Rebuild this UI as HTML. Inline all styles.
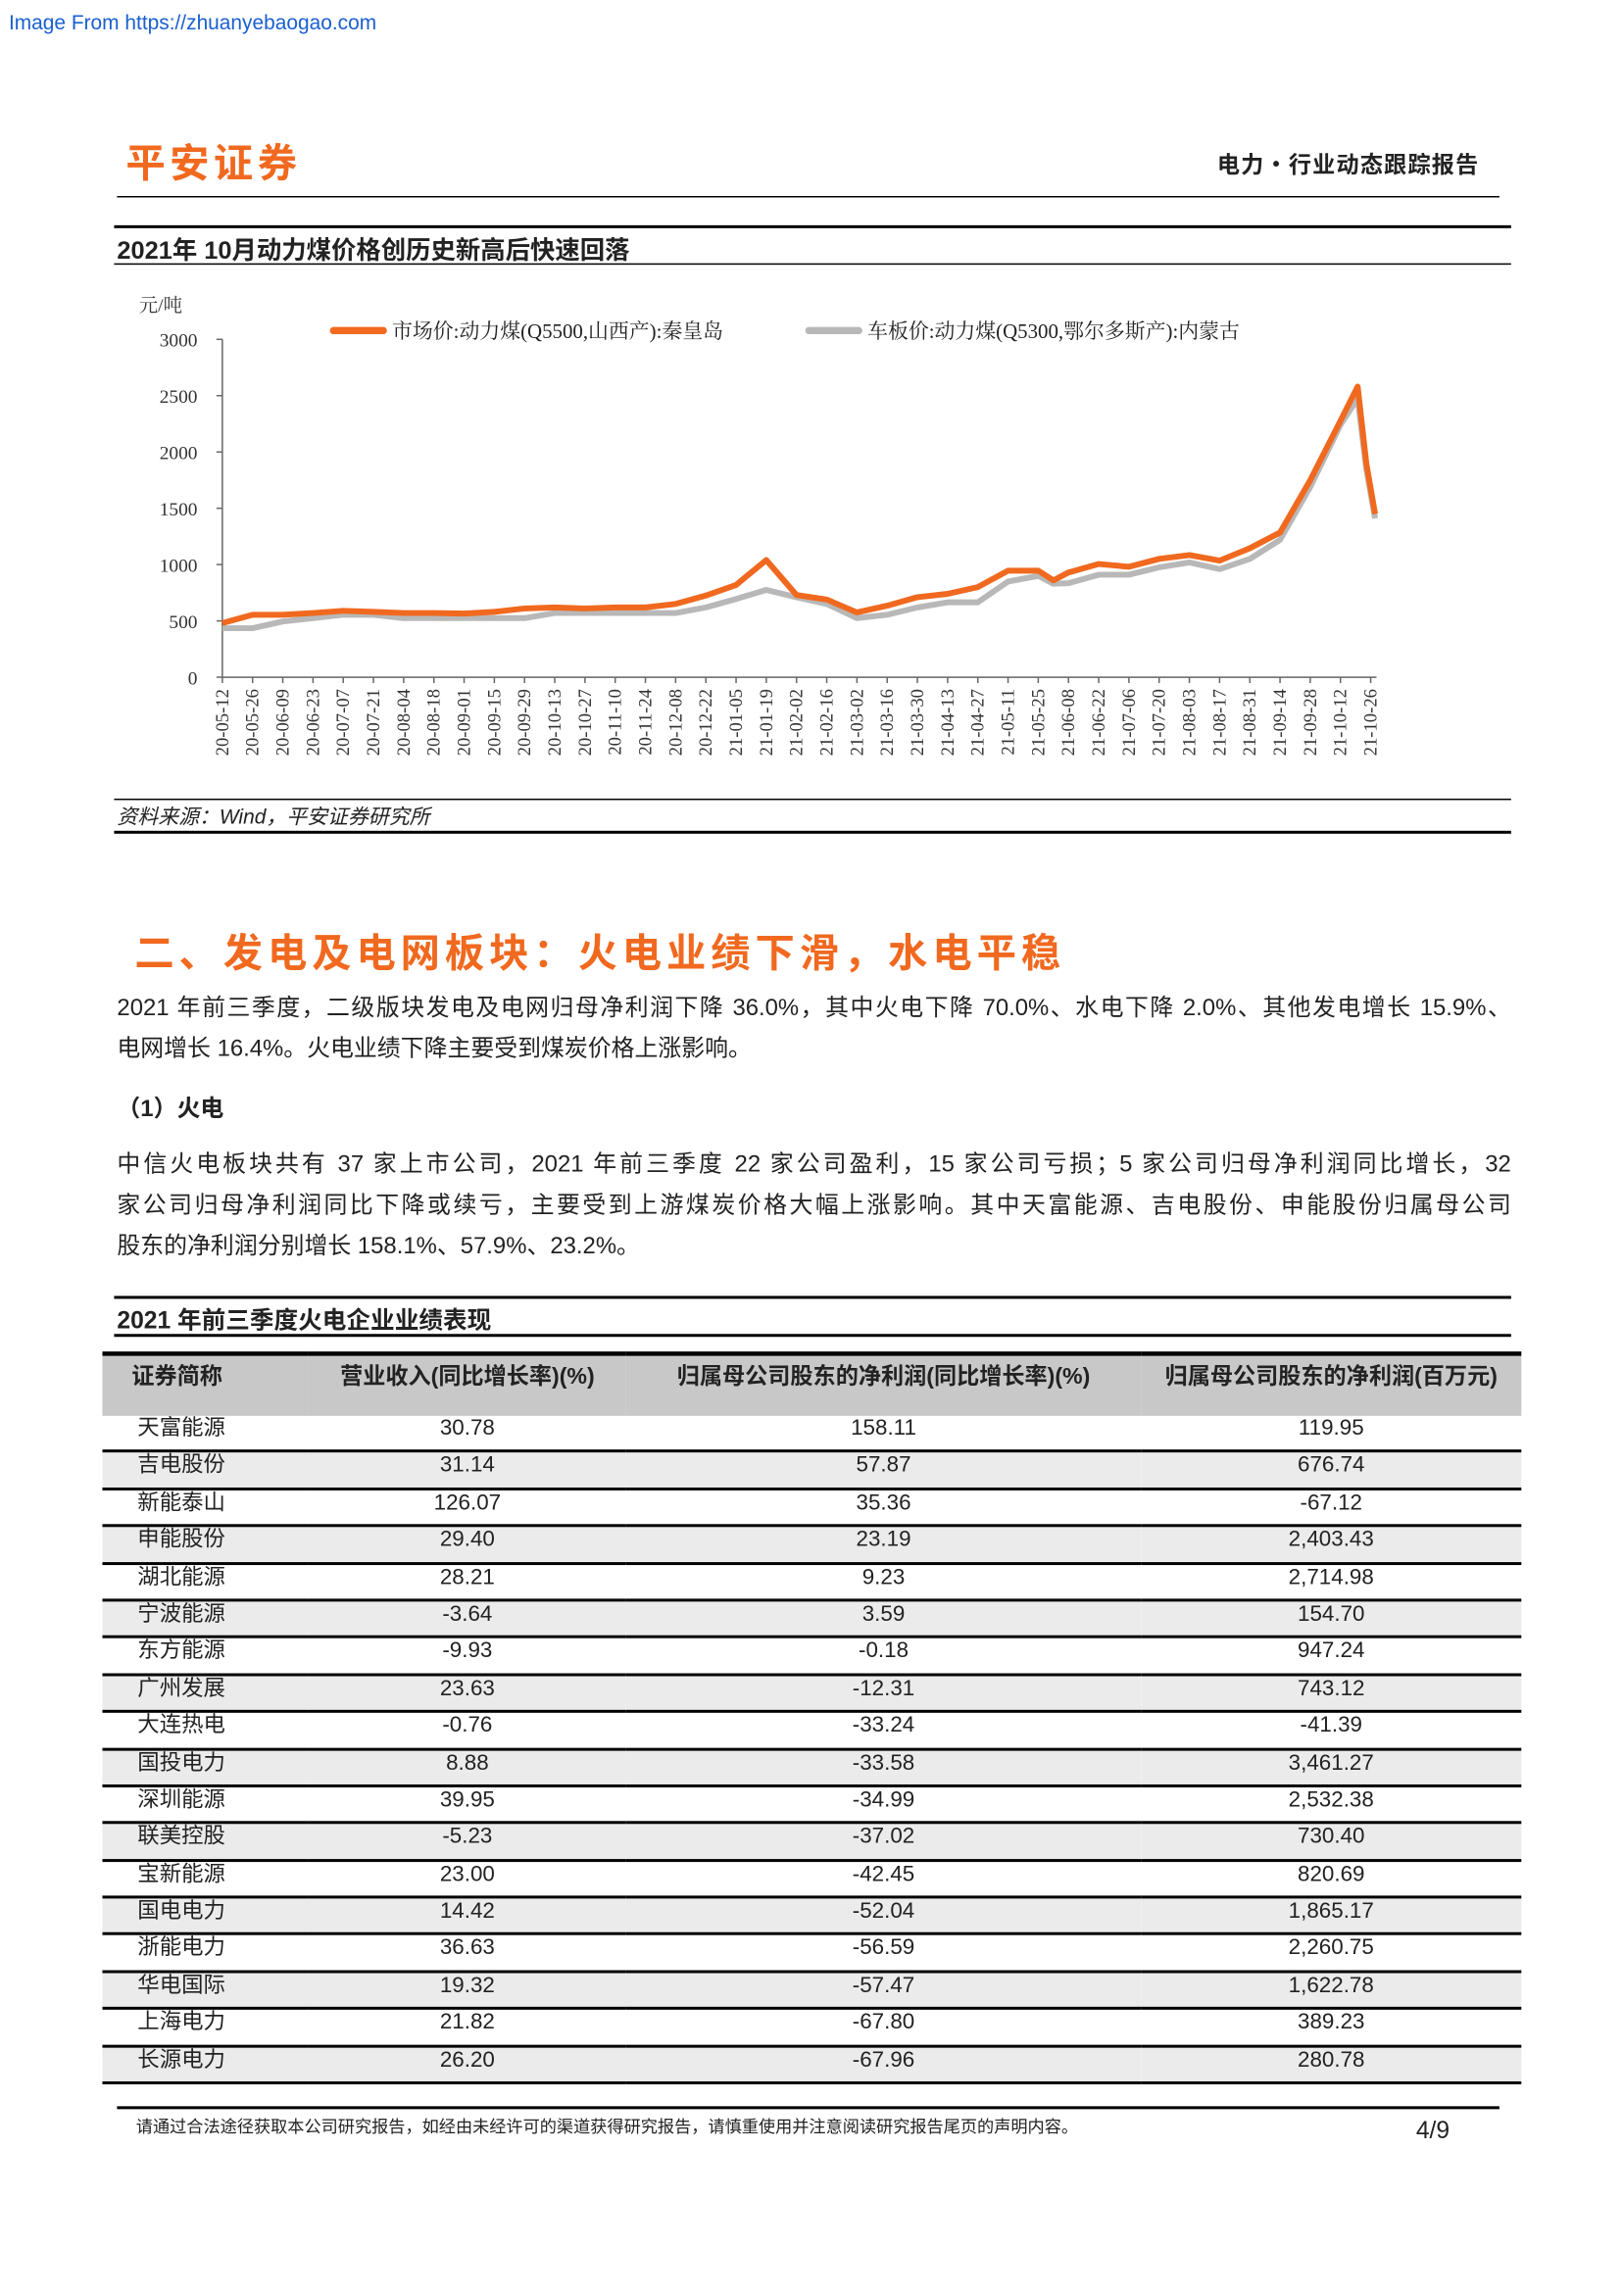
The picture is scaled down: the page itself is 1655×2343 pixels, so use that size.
<!DOCTYPE html>
<html><head><meta charset="utf-8">
<style>
html,body{margin:0;padding:0;background:#fff;}
body{width:1655px;height:2340px;overflow:hidden;position:relative;}
#pg{position:absolute;left:0;top:0;width:1110px;height:1570px;transform:scale(1.4926);transform-origin:0 0;font-family:"Liberation Sans","Noto Sans CJK SC",sans-serif;color:#222;}
.a{position:absolute;white-space:nowrap;}
.ln{position:absolute;background:#000;}
.pl{position:absolute;left:80px;width:953px;font-size:16px;line-height:28px;white-space:nowrap;text-align:justify;text-align-last:justify;}
.pl.last{text-align-last:left;}
table{position:absolute;left:70px;top:924px;width:970px;border-collapse:collapse;font-size:15px;}
th{background:#c8c8c8;font-weight:bold;height:38px;vertical-align:top;padding-top:2px;border-top:3px solid #000;font-size:15.5px;}
td{height:23.4px;border-bottom:2px solid #000;padding:0;line-height:18px;vertical-align:top;}
tr.g td{background:#ebebeb;}
td.n{padding-left:24px;text-align:left;}
td.c{text-align:center;}
</style></head><body>
<div id="pg">
<div class="a" style="left:6px;top:7px;font-size:14px;color:#1a5fd0;">Image From https://zhuanyebaogao.com</div>
<div class="a" style="left:86px;top:90px;font-size:27px;font-weight:bold;color:#f0691f;letter-spacing:3px;">平安证券</div>
<div class="a" style="left:832px;top:101px;font-size:15.5px;font-weight:bold;letter-spacing:0.8px;">电力・行业动态跟踪报告</div>
<div class="ln" style="left:80px;top:134px;width:945px;height:1px;"></div>

<div class="ln" style="left:78px;top:154px;width:955px;height:2px;"></div>
<div class="a" style="left:80px;top:157px;font-size:17px;font-weight:bold;">2021年 10月动力煤价格创历史新高后快速回落</div>
<div class="ln" style="left:78px;top:180px;width:955px;height:1px;"></div>

<svg id="chart" style="position:absolute;left:0;top:0" width="1100" height="560" font-family="'Liberation Serif','Noto Serif CJK SC',serif"></svg>

<div class="ln" style="left:78px;top:546px;width:955px;height:1px;"></div>
<div class="a" style="left:80px;top:548px;font-size:14px;font-style:italic;">资料来源：Wind，平安证券研究所</div>
<div class="ln" style="left:78px;top:568px;width:955px;height:2px;"></div>

<div class="a" style="left:92px;top:630px;font-size:27px;font-weight:bold;color:#f0691f;letter-spacing:3.3px;">二、发电及电网板块：火电业绩下滑，水电平稳</div>
<div>
<div class="pl" style="top:676px;">2021 年前三季度，二级版块发电及电网归母净利润下降 36.0%，其中火电下降 70.0%、水电下降 2.0%、其他发电增长 15.9%、</div>
<div class="pl last" style="top:704px;">电网增长 16.4%。火电业绩下降主要受到煤炭价格上涨影响。</div>
</div>
<div class="a" style="left:80px;top:744px;font-size:16px;font-weight:bold;">（1）火电</div>
<div>
<div class="pl" style="top:783px;">中信火电板块共有 37 家上市公司，2021 年前三季度 22 家公司盈利，15 家公司亏损；5 家公司归母净利润同比增长，32</div>
<div class="pl" style="top:811px;">家公司归母净利润同比下降或续亏，主要受到上游煤炭价格大幅上涨影响。其中天富能源、吉电股份、申能股份归属母公司</div>
<div class="pl last" style="top:839px;">股东的净利润分别增长 158.1%、57.9%、23.2%。</div>
</div>

<div class="ln" style="left:78px;top:886px;width:955px;height:2px;"></div>
<div class="a" style="left:80px;top:889px;font-size:16.5px;font-weight:bold;">2021 年前三季度火电企业业绩表现</div>
<div class="ln" style="left:78px;top:912px;width:955px;height:2px;"></div>

<table>
<thead><tr><th style="width:120px;text-align:left;padding-left:20px;">证券简称</th><th style="width:215px;">营业收入(同比增长率)(%)</th><th style="width:350px;">归属母公司股东的净利润(同比增长率)(%)</th><th>归属母公司股东的净利润(百万元)</th></tr></thead>
<tbody id="tb"></tbody>
</table>

<div class="ln" style="left:80px;top:1440px;width:945px;height:2px;"></div>
<div class="a" style="left:93px;top:1446px;font-size:11.5px;">请通过合法途径获取本公司研究报告，如经由未经许可的渠道获得研究报告，请慎重使用并注意阅读研究报告尾页的声明内容。</div>
<div class="a" style="left:968px;top:1448px;font-size:16.5px;">4/9</div>
</div>
<script>
const names=["天富能源","吉电股份","新能泰山","申能股份","湖北能源","宁波能源","东方能源","广州发展","大连热电","国投电力","深圳能源","联美控股","宝新能源","国电电力","浙能电力","华电国际","上海电力","长源电力"];
const revGrowth=["30.78","31.14","126.07","29.40","28.21","-3.64","-9.93","23.63","-0.76","8.88","39.95","-5.23","23.00","14.42","36.63","19.32","21.82","26.20"];
const profitGrowth=["158.11","57.87","35.36","23.19","9.23","3.59","-0.18","-12.31","-33.24","-33.58","-34.99","-37.02","-42.45","-52.04","-56.59","-57.47","-67.80","-67.96"];
const profit=["119.95","676.74","-67.12","2,403.43","2,714.98","154.70","947.24","743.12","-41.39","3,461.27","2,532.38","730.40","820.69","1,865.17","2,260.75","1,622.78","389.23","280.78"];
const tb=document.getElementById('tb');
names.forEach((n,i)=>{
  const tr=document.createElement('tr');
  
  
  if(i%2===1)tr.className='g';
  [[n,'n'],[revGrowth[i],'c'],[profitGrowth[i],'c'],[profit[i],'c']].forEach(([v,c])=>{
    const td=document.createElement('td');td.className=c;td.textContent=v;
    
    
    tr.appendChild(td);
  });
  tb.appendChild(tr);
});

const dateLabels=["20-05-12","20-05-26","20-06-09","20-06-23","20-07-07","20-07-21","20-08-04","20-08-18","20-09-01","20-09-15","20-09-29","20-10-13","20-10-27","20-11-10","20-11-24","20-12-08","20-12-22","21-01-05","21-01-19","21-02-02","21-02-16","21-03-02","21-03-16","21-03-30","21-04-13","21-04-27","21-05-11","21-05-25","21-06-08","21-06-22","21-07-06","21-07-20","21-08-03","21-08-17","21-08-31","21-09-14","21-09-28","21-10-12","21-10-26"];
const yTicks=[0,500,1000,1500,2000,2500,3000];
const dayOffsets=[0,14,28,42,56,70,84,98,112,126,140,154,168,182,196,210,224,238,252,266,280,294,308,322,336,350,364,378,385,392,406,420,434,448,462,476,490,504,518,526,530,534];
const qhdPrice=[480,555,555,570,590,580,570,570,565,580,610,620,610,620,620,650,725,820,1040,730,690,575,635,710,740,800,945,945,860,930,1005,980,1050,1085,1035,1145,1285,1750,2275,2580,1900,1450];
const nmgPrice=[435,435,495,525,555,555,525,525,525,525,525,570,570,570,570,570,620,695,775,710,650,525,555,620,665,665,850,900,830,835,910,910,975,1020,960,1050,1220,1690,2240,2475,1850,1410];
const svg=document.getElementById('chart');
const NS='http://www.w3.org/2000/svg';
const X0=152,X1=937,Y0=463,Y1=232;
const xs=d=>X0+d/532*(X1-X0);
const ys=v=>Y0-v/3000*(Y0-Y1);
function mk(t,a){const e=document.createElementNS(NS,t);for(const k in a)e.setAttribute(k,a[k]);svg.appendChild(e);return e;}
const ax=mk('path',{d:`M${X0},${Y1} V${Y0} H${X1+4}`,stroke:'#666',fill:'none','stroke-width':1});


yTicks.forEach(v=>{
  const l=mk('line',{x1:X0-4,x2:X0,y1:ys(v),y2:ys(v),stroke:'#666'});
  
  
  const t=mk('text',{x:X0-17,y:ys(v)+5,'font-size':13,'text-anchor':'end',fill:'#333'});
  t.textContent=v;
  
  
});
dateLabels.forEach((s,k)=>{
  const x=xs(k*14);
  const l=mk('line',{x1:x,x2:x,y1:Y0,y2:Y0+4,stroke:'#666'});
  
  
  const t=mk('text',{x:0,y:0,'font-size':12.5,'text-anchor':'end',fill:'#333',transform:`translate(${x+4},${Y0+8}) rotate(-90)`});
  t.textContent=s;
  
  
});
const ut=mk('text',{x:95,y:213,'font-size':13,fill:'#333'});
ut.textContent='元/吨';


function line(vals,col,name){
  const p=mk('polyline',{points:vals.map((v,i)=>xs(dayOffsets[i]).toFixed(1)+','+ys(v).toFixed(1)).join(' '),fill:'none',stroke:col,'stroke-width':4,'stroke-linejoin':'round'});
  
  
}
line(nmgPrice,'#b8b8b8','series-inner-mongolia');
line(qhdPrice,'#f0691f','series-qinhuangdao');
[[228,'#f0691f','市场价:动力煤(Q5500,山西产):秦皇岛'],[553,'#b8b8b8','车板价:动力煤(Q5300,鄂尔多斯产):内蒙古']].forEach(([x,c,s])=>{
  const l=mk('line',{x1:x,x2:x+34,y1:226,y2:226,stroke:c,'stroke-width':5,'stroke-linecap':'round'});
  
  
  const t=mk('text',{x:x+40,y:231,'font-size':14,fill:'#222'});
  t.textContent=s;
  
  
});
</script>
</body></html>
